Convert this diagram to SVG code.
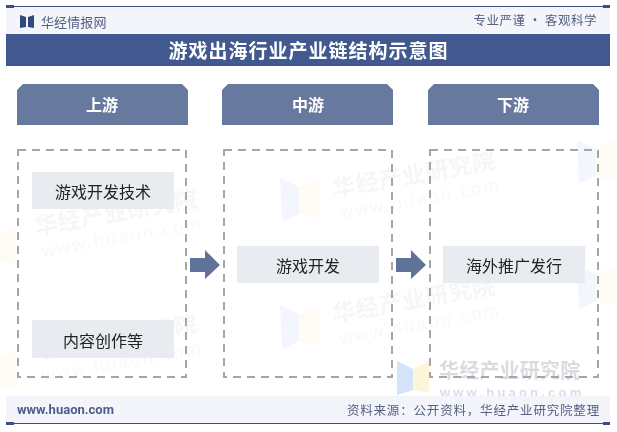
<svg xmlns="http://www.w3.org/2000/svg" width="617" height="432" viewBox="0 0 617 432">
<defs>
<style>
text{font-family:"Noto Sans CJK SC","Liberation Sans",sans-serif}
.hd{fill:#68799f}
.hdt{fill:#fff;font-size:16px;font-weight:700;text-anchor:middle}
.dash{fill:none;stroke:#a6a6a6;stroke-width:2;stroke-dasharray:8 6}
.box{fill:#e8ebf0}
.bt{fill:#222;font-size:16px;text-anchor:middle}
.arrow{fill:#5f7299}
.wm{fill:#e3e4e8;font-size:23px;font-weight:700}
.wu{fill:#e9ebee;font-family:"Liberation Sans",sans-serif}
.wmf{opacity:.34}
.band{fill:#f3f5fb}
</style>
<g id="wmark">
<text class="wm" x="0" y="0" style="letter-spacing:.6px">华经产业研究院</text>
<text class="wu" x="3" y="23" style="letter-spacing:2.4px;font-size:18px">www.huaon.com</text>
</g>
<g id="lg">
<polygon points="0,0 19,9 19,36 2,44" fill="#dbe8fa"/>
<polygon points="19,9 39,0 39,40 19,36" fill="#fdf6df"/>
</g>
</defs>
<rect width="617" height="432" fill="#fff"/>
<g id="watermarks">
<g class="wmf">
<use href="#lg" transform="translate(-22,225)"/>
<use href="#lg" transform="translate(-22,350)"/>
<use href="#lg" transform="translate(280,178)"/>
<use href="#lg" transform="translate(280,305)"/>
<use href="#lg" transform="translate(577,140)"/>
<use href="#lg" transform="translate(577,265)"/>
<use href="#wmark" transform="translate(36,235) rotate(-10)"/>
<use href="#wmark" transform="translate(36,360) rotate(-10)"/>
<use href="#wmark" transform="translate(334,197) rotate(-10)"/>
<use href="#wmark" transform="translate(334,322) rotate(-10)"/>
</g>
<polygon points="397,361 413,369 413,390 397,395" fill="#d3e3f9"/>
<polygon points="413,369 429,361 429,393 413,390" fill="#fdf5da"/>
<text x="439" y="378" style="font-size:20px;font-weight:700;fill:#d9dbe1;letter-spacing:.2px">华经产业研究院</text>
<text x="440" y="397" style="font-size:13px;font-weight:700;fill:#dcdee3;font-family:'Liberation Sans',sans-serif;letter-spacing:3.2px">www.huaon.com</text>
</g>
<g id="header">
<rect class="band" x="6" y="7" width="604" height="27"/>
<rect x="6" y="6" width="604" height="1" fill="#3d4f80"/>
<rect x="6" y="5" width="8" height="3" fill="#3d4f80"/>
<rect x="603" y="5" width="7" height="3" fill="#3d4f80"/>
<polygon points="20,15 26,17 26,27 20,28" fill="#2f4a80"/>
<polygon points="34,15 28,17 28,27 34,28" fill="#2f4a80"/>
<text x="41" y="27" style="font-size:13px;fill:#55617f;letter-spacing:.1px">华经情报网</text>
<text x="597" y="25" text-anchor="end" style="font-size:12.5px;fill:#55617f;letter-spacing:.5px">专业严谨 • 客观科学</text>
</g>
<g id="title">
<rect x="6" y="34" width="604" height="32" fill="#42598f"/>
<text x="308.500" y="58" text-anchor="middle" style="font-size:19px;font-weight:700;fill:#fff;letter-spacing:1px">游戏出海行业产业链结构示意图</text>
</g>
<g id="node-up-header"><polygon class="hd" points="23,84 182,84 188,90 188,125 17,125 17,90"/><text class="hdt" x="102" y="111">上游</text></g>
<g id="node-mid-header"><polygon class="hd" points="228,84 387,84 393,90 393,125 222,125 222,90"/><text class="hdt" x="308" y="111">中游</text></g>
<g id="node-down-header"><polygon class="hd" points="434,84 593,84 599,90 599,125 428,125 428,90"/><text class="hdt" x="513" y="111">下游</text></g>
<g id="node-up-panel"><rect class="dash" x="18" y="150" width="168" height="227"/></g>
<g id="node-mid-panel"><rect class="dash" x="224" y="150" width="168" height="227"/></g>
<g id="node-down-panel"><rect class="dash" x="430" y="150" width="168" height="227"/></g>
<g id="node-tech"><rect class="box" x="32" y="172" width="142" height="37"/><text class="bt" x="103" y="198">游戏开发技术</text></g>
<g id="node-content"><rect class="box" x="32" y="320" width="142" height="38"/><text class="bt" x="103" y="347">内容创作等</text></g>
<g id="node-dev"><rect class="box" x="237" y="246" width="142" height="37"/><text class="bt" x="308" y="272">游戏开发</text></g>
<g id="node-publish"><rect class="box" x="443" y="246" width="142" height="37"/><text class="bt" x="514" y="272">海外推广发行</text></g>
<g id="connectors">
<polygon class="arrow" points="190,258 205,258 205,250 220,265 205,279 205,272 190,272"/>
<polygon class="arrow" points="396,258 411,258 411,250 426,265 411,279 411,272 396,272"/>
</g>
<g id="footer">
<rect class="band" x="6" y="396" width="604" height="27"/>
<rect x="6" y="423" width="604" height="1" fill="#3d4f80"/>
<rect x="6" y="422" width="8" height="3" fill="#3d4f80"/>
<rect x="603" y="422" width="7" height="3" fill="#3d4f80"/>
<text x="17" y="414" style="font-size:13px;font-weight:700;fill:#4a5d8c;font-family:Roboto,'Liberation Sans',sans-serif">www.huaon.com</text>
<text x="600" y="415" text-anchor="end" style="font-size:12.5px;fill:#55617f;letter-spacing:.82px">资料来源：公开资料，华经产业研究院整理</text>
</g>
</svg>
